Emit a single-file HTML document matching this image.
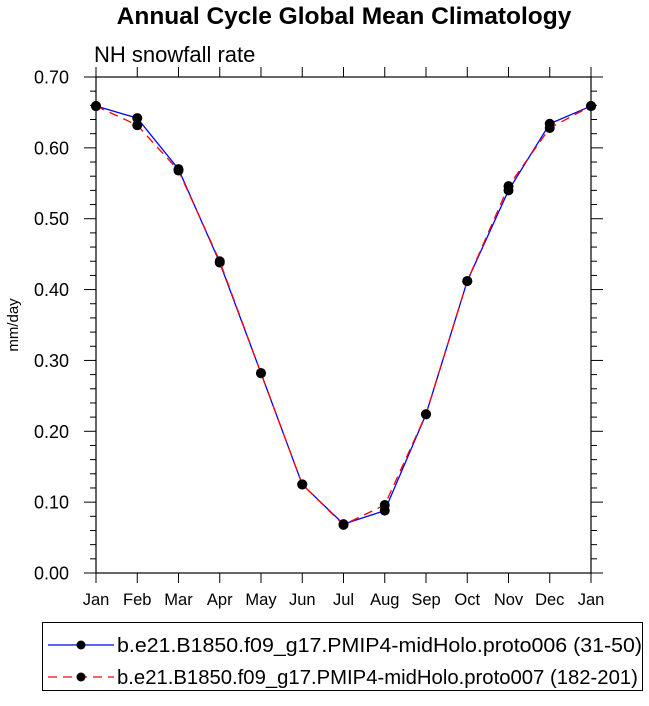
<!DOCTYPE html>
<html><head><meta charset="utf-8"><style>
body{margin:0;background:#fff;width:649px;height:701px;overflow:hidden}
svg{font-family:"Liberation Sans",sans-serif}
</style></head><body>
<svg id="c" width="649" height="701">
<text x="344" y="24" text-anchor="middle" font-size="24.5" font-weight="bold">Annual Cycle Global Mean Climatology</text>
<text x="94" y="62" font-size="22">NH snowfall rate</text>
<text transform="translate(18,325) rotate(-90)" text-anchor="middle" font-size="15">mm/day</text>
<g id="axes"></g><g id="series"></g>
<g>
<rect x="42.5" y="622.5" width="600" height="68" fill="none" stroke="#000"/>
<g>
<line x1="48" y1="645" x2="114" y2="645" stroke="#0000ff" stroke-width="1.3"/>
<circle cx="81" cy="645" r="4.5"/>
<text x="117" y="652" font-size="20.3" textLength="525" lengthAdjust="spacingAndGlyphs">b.e21.B1850.f09_g17.PMIP4-midHolo.proto006 (31-50)</text></g>
<g>
<line x1="48" y1="677" x2="114" y2="677" stroke="#ff0000" stroke-width="1.3" stroke-dasharray="9,6"/>
<circle cx="81" cy="677" r="4.5"/>
<text x="117" y="684" font-size="20.3">b.e21.B1850.f09_g17.PMIP4-midHolo.proto007 (182-201)</text></g>
</g>
</svg>
<script>
const months=["Jan","Feb","Mar","Apr","May","Jun","Jul","Aug","Sep","Oct","Nov","Dec","Jan"];
const s1=[0.659,0.642,0.570,0.438,0.282,0.125,0.069,0.088,0.224,0.412,0.540,0.634,0.659];
const s2=[0.659,0.632,0.568,0.440,0.282,0.125,0.068,0.096,0.224,0.412,0.546,0.628,0.659];
const yTicks=[0,0.1,0.2,0.3,0.4,0.5,0.6,0.7];
const L=96,R=591,T=77,B=573,ymax=0.7;
const X=i=>L+(R-L)*i/(months.length-1);
const Y=v=>B-(B-T)*v/ymax;
const NS="http://www.w3.org/2000/svg";
function mk(tag,at,par){const e=document.createElementNS(NS,tag);for(const k in at)e.setAttribute(k,at[k]);par.appendChild(e);return e;}
const ax=document.getElementById('axes');
const fr=mk('rect',{x:L,y:T,width:R-L,height:B-T,fill:'none',stroke:'#000','stroke-width':1.2},ax);


yTicks.forEach((v,i)=>{
 const y=Y(v);
 mk('line',{x1:L-12,y1:y,x2:L,y2:y,stroke:'#000'},ax);
 mk('line',{x1:R,y1:y,x2:R+12,y2:y,stroke:'#000'},ax);
 const t=mk('text',{x:L-27,y:y+6.5,'text-anchor':'end','font-size':18},ax);
 t.textContent=v.toFixed(2);
 
 
 if(i<yTicks.length-1){for(let k=1;k<5;k++){const yy=Y(v+0.02*k);
  mk('line',{x1:L-6,y1:yy,x2:L,y2:yy,stroke:'#000'},ax);
  mk('line',{x1:R,y1:yy,x2:R+6,y2:yy,stroke:'#000'},ax);}}
});
months.forEach((m,i)=>{
 const x=X(i);
 mk('line',{x1:x,y1:B,x2:x,y2:B+10,stroke:'#000'},ax);
 mk('line',{x1:x,y1:T-10,x2:x,y2:T,stroke:'#000'},ax);
 const t=mk('text',{x:x,y:B+32,'text-anchor':'middle','font-size':16.5},ax);
 t.textContent=m;
 
 
});
const sg=document.getElementById('series');
[[s1,'#0000ff',null,'series-proto006'],[s2,'#ff0000','9,6','series-proto007']].forEach(([d,c,da,n])=>{
 const g=mk('g',{},sg);
 
 
 const p=mk('polyline',{points:d.map((v,i)=>X(i)+','+Y(v)).join(' '),fill:'none',stroke:c,'stroke-width':1.3},g);
 if(da)p.setAttribute('stroke-dasharray',da);
 d.forEach((v,i)=>{const ci=mk('circle',{cx:X(i),cy:Y(v),r:5},g);
  
  });
});
</script>
</body></html>
